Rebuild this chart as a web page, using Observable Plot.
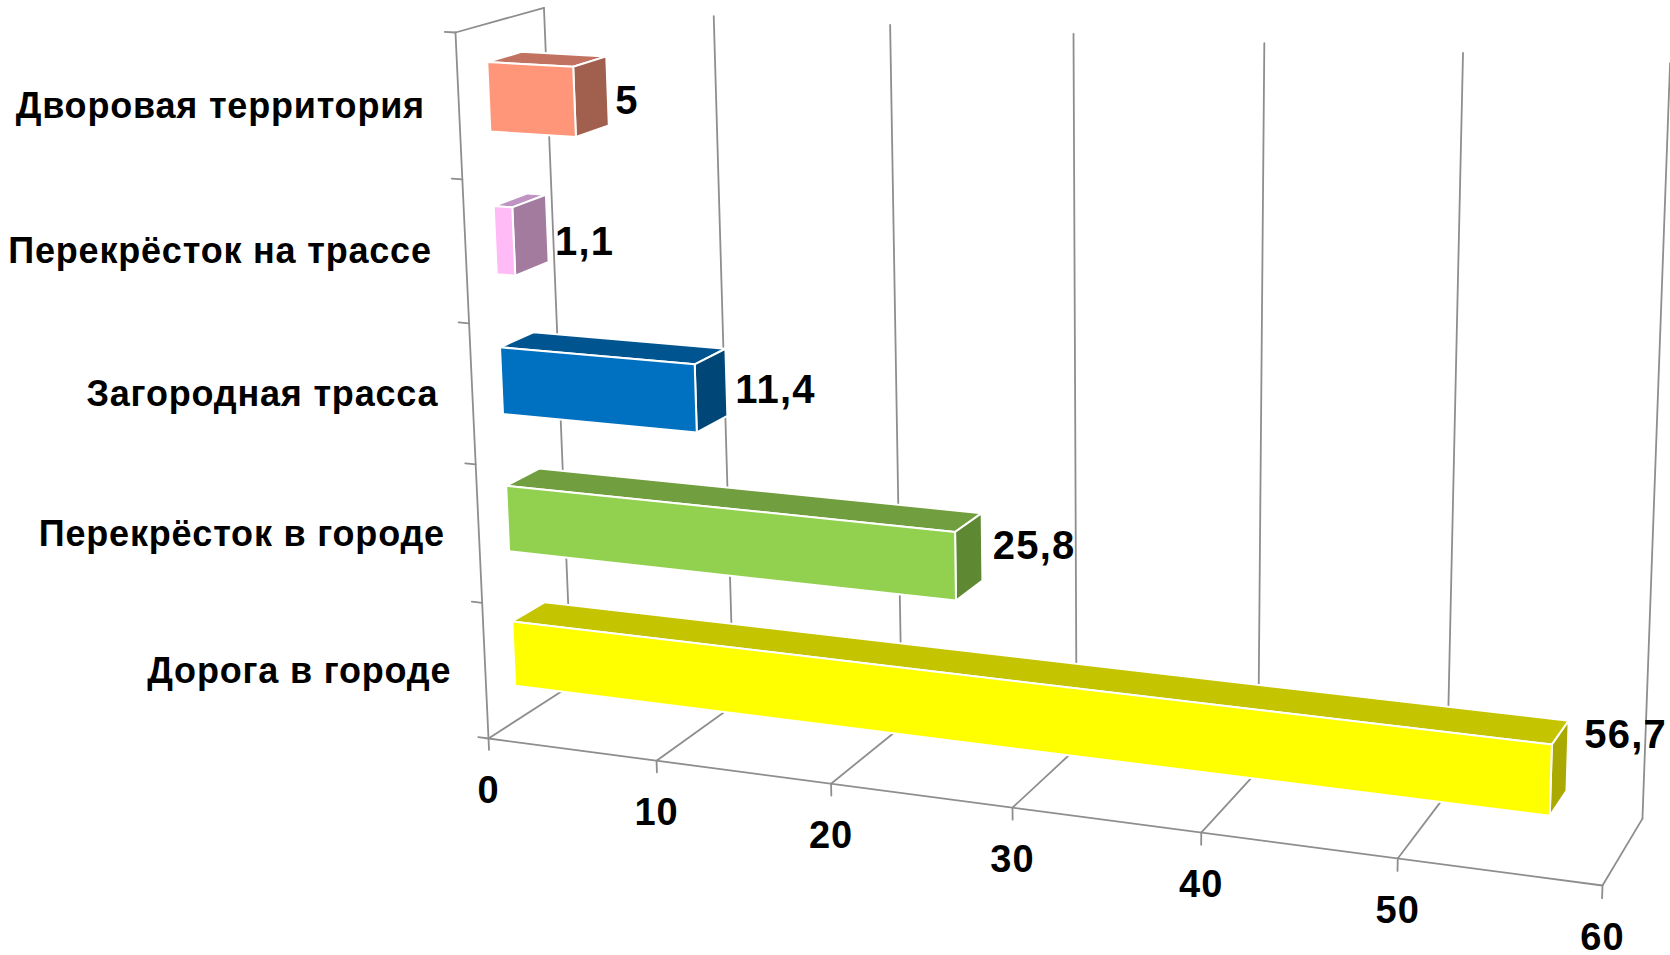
<!DOCTYPE html>
<html>
<head>
<meta charset="utf-8">
<script src="https://cdn.jsdelivr.net/npm/d3@7"></script>
<script src="https://cdn.jsdelivr.net/npm/@observablehq/plot@0.6"></script>
<style>
  html, body { margin: 0; padding: 0; background: #ffffff; }
  #chart svg { display: block; }
  #chart svg text.cat { letter-spacing: 0.8px; }
  #chart svg g.val text { letter-spacing: 1.2px; }
  #chart svg g.tick text { letter-spacing: 1px; }
</style>
</head>
<body>
<div id="chart"></div>
<script>
// ---------------- data (bottom row first) ----------------
const categories  = ["Дорога в городе", "Перекрёсток в городе", "Загородная трасса", "Перекрёсток на трассе", "Дворовая территория"];
const values      = [56.7, 25.8, 11.4, 1.1, 5];
const valueLabels = ["56,7", "25,8", "11,4", "1,1", "5"];
const xTicks      = [0, 10, 20, 30, 40, 50, 60];
const xTickLabels = ["0", "10", "20", "30", "40", "50", "60"];

// ---------------- styles ----------------
const frontColors = ["#FFFF00", "#92D050", "#0070C0", "#FFBBF5", "#FF967A"];
const topColors   = ["#C4C400", "#719E3E", "#00548F", "#BF94C2", "#C27260"];
const sideColors  = ["#A9A900", "#5F8833", "#004777", "#A27B9F", "#A15F4D"];
const gridColor = "#8E8E8E";
const font = "Liberation Sans, Arial, Helvetica, sans-serif";

// ---------------- 3D camera (world X = value, Y = height 0..1, Z = depth 0..1) ----------------
const camera = [
  [15.58,     -55.05,  108.3,   488],
  [0.800,     -707.55, -23.14,  738],
  [-0.0018644, -0.0484, 0.04435, 1]
];
const xMax = 60;
const nRows = categories.length;
const barHalf = 0.048;             // half bar height (fraction of the wall height)
const barZ0 = 0.33, barZ1 = 0.72;  // bar depth range
const labelZ = 0.525;
const labelRise = [-0.011, 0.00098]; // value-label lift: a + b*value

function proj3(X, Y, Z) {
  const v = [X, Y, Z || 0, 1];
  const r = camera.map(row => row[0]*v[0] + row[1]*v[1] + row[2]*v[2] + row[3]*v[3]);
  return [r[0] / r[2], r[1] / r[2]];
}
const projection = d3.geoTransform({
  point(x, y, z) { const p = proj3(x, y, z); this.stream.point(p[0], p[1]); }
});

const rowCenter = i => (i + 0.5) / nRows;
const rows = categories.map((c, i) => ({category: c, value: values[i], label: valueLabels[i], row: i}));

// ---------------- geometry built from the data ----------------
const line = (pts) => ({type: "Feature", properties: {}, geometry: {type: "LineString", coordinates: pts}});
const poly = (pts, fill) => ({type: "Feature", properties: {fill}, geometry: {type: "Polygon", coordinates: [[...pts, pts[0]]]}});

// back wall + floor grid
const grid = [];
xTicks.forEach(t => {
  grid.push(line([[t, 0, 1], [t, 1, 1]]));     // back wall verticals
  grid.push(line([[t, 0, 0], [t, 0, 1]]));     // floor lines
});
grid.push(line([[0, 1, 0], [0, 1, 1]]));       // left side wall top edge

// axes (front)
const axes = [];
axes.push(line([[0, 0, 0], [0, 1, 0]]));
axes.push(line([[0, 0, 0], [xMax, 0, 0]]));
for (let k = 0; k <= nRows; k++) axes.push(line([[-0.62, k / nRows, 0], [0, k / nRows, 0]]));
xTicks.forEach(t => axes.push(line([[t, 0, 0], [t, -0.017, 0]])));

// bars: painter order, top row first
const faces = [];
rows.slice().reverse().forEach(d => {
  const i = d.row, v = d.value;
  const y0 = rowCenter(i) - barHalf, y1 = rowCenter(i) + barHalf;
  faces.push(poly([[0, y1, barZ0], [v, y1, barZ0], [v, y1, barZ1], [0, y1, barZ1]], topColors[i]));
  faces.push(poly([[v, y0, barZ0], [v, y0, barZ1], [v, y1, barZ1], [v, y1, barZ0]], sideColors[i]));
  faces.push(poly([[0, y0, barZ0], [v, y0, barZ0], [v, y1, barZ0], [0, y1, barZ0]], frontColors[i]));
});

const valueAnchors = rows.map(d => ({
  type: "Feature",
  properties: {label: d.label},
  geometry: {type: "Point", coordinates: [d.value, rowCenter(d.row) + labelRise[0] + labelRise[1]*d.value, labelZ]}
}));

const chart = Plot.plot({
  width: 1670,
  height: 955,
  margin: 0,
  projection,
  color: {type: "identity"},
  style: {background: "#ffffff", fontFamily: font},
  marks: [
    Plot.geo(grid, {stroke: gridColor, strokeWidth: 1.8, fill: "none"}),
    Plot.geo(faces, {fill: d => d.properties.fill, stroke: "#ffffff", strokeWidth: 2, strokeLinejoin: "round"}),
    Plot.geo(axes, {stroke: gridColor, strokeWidth: 1.8, fill: "none"}),
    Plot.text(rows, {
      x: d => 0, y: d => rowCenter(d.row), text: "category", className: "catg",
      textAnchor: "end", dx: -34, fontSize: 36, fontWeight: "bold", fill: "#000"
    }),
    Plot.text(xTicks, {
      x: d => d, y: d => 0, text: (d, i) => xTickLabels[i], className: "tick",
      textAnchor: "middle", dy: 52, fontSize: 38, fontWeight: "bold", fill: "#000"
    }),
    Plot.text(valueAnchors, Plot.centroid({
      text: d => d.properties.label, className: "val",
      textAnchor: "start", dx: 24, fontSize: 40, fontWeight: "bold", fill: "#000"
    }))
  ]
});
chart.querySelectorAll("g.catg text").forEach(t => t.classList.add("cat"));
document.getElementById("chart").appendChild(chart);
</script>
</body>
</html>
